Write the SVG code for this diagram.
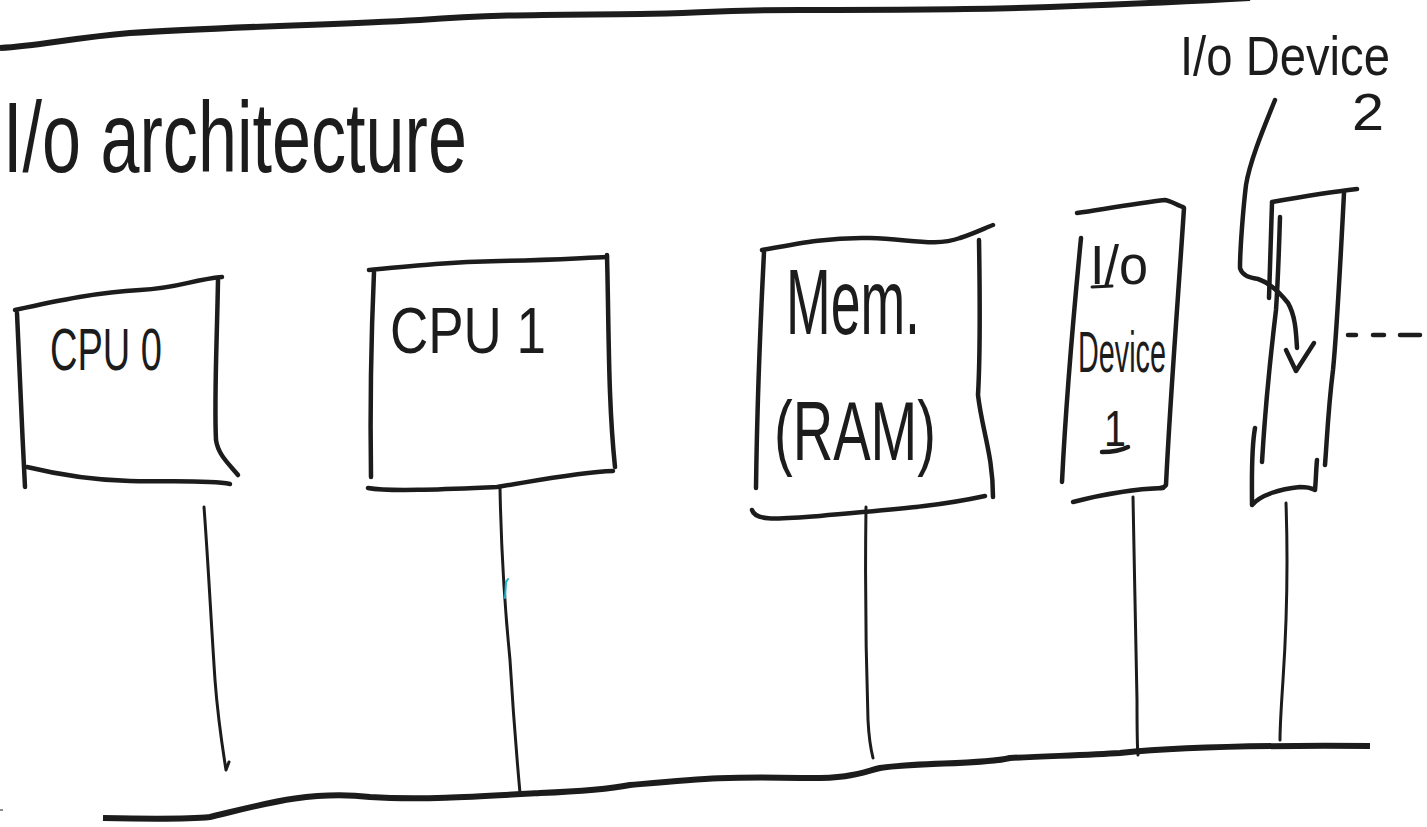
<svg xmlns="http://www.w3.org/2000/svg" width="1427" height="827" viewBox="0 0 1427 827">
  <style>
    .ink { fill: none; stroke: #1c1c1c; stroke-width: 4.5; stroke-linecap: round; stroke-linejoin: round; }
    .thin { fill: none; stroke: #1c1c1c; stroke-width: 3; stroke-linecap: round; stroke-linejoin: round; }
    .bus { fill: none; stroke: #1c1c1c; stroke-width: 6; stroke-linecap: butt; stroke-linejoin: round; }
    .hand { font-family: "Liberation Sans", "DejaVu Sans", sans-serif; fill: #1c1c1c; }
  </style>
  <rect width="1427" height="827" fill="#ffffff"/>

  <!-- header rule -->
  <path class="bus" d="M0,48 C40,46 70,38 130,33 C220,27 330,25 420,20 C500,14 560,15 640,14 C700,13 720,10 800,10 C900,10 980,10 1050,7 C1130,4 1180,2 1250,-2"/>

  <!-- title -->
  <text class="hand" x="3" y="172" font-size="100" textLength="464" lengthAdjust="spacingAndGlyphs">I/o architecture</text>

  <!-- CPU 0 -->
  <g id="cpu0">
    <path class="ink" d="M15,310 C60,300 100,292 140,290 C180,288 190,280 222,277"/>
    <path class="ink" d="M17,313 C20,380 22,430 25,487"/>
    <path class="ink" d="M218,280 C217,340 214,400 216,440 C218,455 230,465 238,475"/>
    <path class="ink" d="M27,467 C60,475 90,480 130,481 C180,482 210,480 230,484"/>
    <text class="hand" x="50" y="370" font-size="60" textLength="112" lengthAdjust="spacingAndGlyphs">CPU 0</text>
  </g>

  <!-- CPU 1 -->
  <g id="cpu1">
    <path class="ink" d="M369,270 C420,265 450,262 500,261 C550,260 580,258 607,257"/>
    <path class="ink" d="M374,272 C371,340 370,410 371,477"/>
    <path class="ink" d="M607,255 C609,330 608,400 615,467"/>
    <path class="ink" d="M368,488 C390,492 450,489 497,487 C540,480 580,472 613,471"/>
    <text class="hand" x="390" y="353" font-size="64" textLength="156" lengthAdjust="spacingAndGlyphs">CPU 1</text>
  </g>

  <!-- Memory -->
  <g id="memory">
    <path class="ink" d="M762,250 C800,243 830,237 870,238 C910,239 935,247 960,238 C975,233 985,228 993,225"/>
    <path class="ink" d="M764,252 C760,330 757,410 756,488"/>
    <path class="ink" d="M979,240 C980,300 980,360 978,395 C982,430 993,455 993,497"/>
    <path class="ink" d="M752,510 C755,520 770,520 820,516 C880,510 930,508 985,496"/>
    <text class="hand" x="786" y="334" font-size="92" textLength="134" lengthAdjust="spacingAndGlyphs">Mem.</text>
    <text class="hand" x="774" y="460" font-size="84" textLength="162" lengthAdjust="spacingAndGlyphs">(RAM)</text>
  </g>

  <!-- I/O device 1 -->
  <g id="io-device-1">
    <path class="ink" d="M1077,213 C1110,208 1140,203 1165,200 C1172,201 1178,206 1183,207"/>
    <path class="ink" d="M1081,238 C1073,320 1066,400 1062,482"/>
    <path class="ink" d="M1184,208 C1178,300 1170,400 1166,485 C1164,488 1162,488 1160,488"/>
    <path class="ink" d="M1073,502 C1100,495 1130,489 1163,488"/>
    <text class="hand" x="1090" y="284" font-size="56" textLength="58" lengthAdjust="spacingAndGlyphs">I/o</text>
    <path class="thin" d="M1092,287 L1112,286"/>
    <text class="hand" x="1078" y="372" font-size="58" textLength="88" lengthAdjust="spacingAndGlyphs">Device</text>
    <text class="hand" x="1104" y="446" font-size="50" textLength="22" lengthAdjust="spacingAndGlyphs">1</text>
    <path class="ink" d="M1102,452 C1110,452 1120,451 1128,447"/>
  </g>

  <!-- I/O device 2 -->
  <g id="io-device-2">
    <path class="ink" d="M1272,202 C1300,197 1330,192 1357,189"/>
    <path class="ink" d="M1272,203 C1271,240 1270,270 1269,298"/>
    <path class="ink" d="M1280,217 C1279,250 1278,280 1276,310 C1270,360 1265,410 1262,462"/>
    <path class="ink" d="M1344,193 C1340,270 1337,330 1333,370 C1328,410 1327,440 1325,465"/>
    <path class="ink" d="M1255,428 C1251,450 1252,480 1252,505 C1260,495 1280,489 1300,487 C1310,487 1313,489 1315,490 C1316,480 1316,470 1317,460"/>
    <path class="ink" d="M1348,335 L1356,335 M1373,335 L1384,335 M1400,335 L1420,335"/>
    <text class="hand" x="1180" y="75" font-size="56" textLength="210" lengthAdjust="spacingAndGlyphs">I/o Device</text>
    <text class="hand" x="1352" y="130" font-size="52" textLength="32" lengthAdjust="spacingAndGlyphs">2</text>
    <!-- pointer from the label into the box -->
    <path class="ink" d="M1275,100 C1265,125 1250,160 1246,185 C1243,210 1240,250 1240,268 C1242,276 1250,278 1258,279 C1270,283 1280,293 1288,303 C1295,315 1296,330 1297,348"/>
    <path class="ink" d="M1286,350 L1296,371 L1314,343"/>
  </g>

  <!-- links from each unit down to the bus -->
  <g id="connectors">
    <path class="bus" d="M103,818 C150,819 190,819 210,817 C260,805 310,790 370,797 C420,800 470,797 540,793 C590,791 610,789 630,785 C700,779 730,776 800,778 C850,779 860,773 880,768 C920,762 980,765 1010,758 C1050,756 1090,755 1120,753 C1180,747 1250,745 1370,746"/>
    <path class="thin" d="M204,507 C208,560 211,620 215,680 C218,720 222,745 226,770 L229,762"/>
    <path class="thin" d="M500,488 C501,540 504,600 510,660 C513,710 517,760 520,793"/>
    <path class="thin" d="M866,507 C865,580 866,660 868,720 C869,740 871,750 873,758"/>
    <path class="thin" d="M1133,497 C1134,560 1136,640 1137,700 C1137,730 1137,745 1138,755"/>
    <path class="thin" d="M1286,503 C1288,560 1287,620 1283,680 C1281,710 1280,725 1280,740"/>
  </g>

  <!-- stray marks -->
  <path d="M508,579 L506,582 L505,598" fill="none" stroke="#18b4c8" stroke-width="2" stroke-linecap="round"/>
  <path d="M0,810 L3,810" fill="none" stroke="#1c1c1c" stroke-width="1"/>
</svg>
